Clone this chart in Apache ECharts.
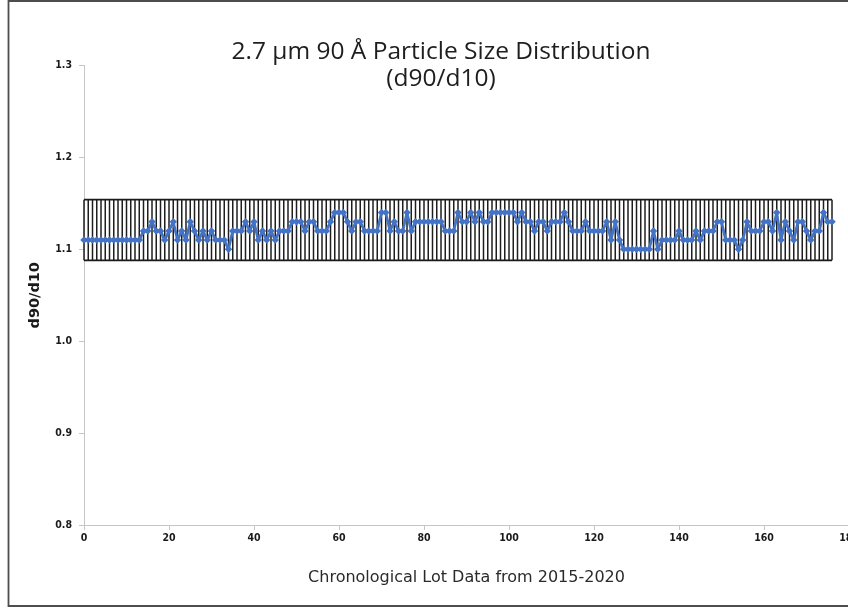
<!DOCTYPE html>
<html>
<head>
<meta charset="utf-8">
<script src="https://cdn.jsdelivr.net/npm/echarts@6/dist/echarts.min.js"></script>
<style>
  html, body { margin: 0; padding: 0; background: #ffffff; }
  #chart { width: 848px; height: 608px; }
</style>
</head>
<body>
<div id="chart"></div>
<script>
// ---- data ----
const titleLine1 = '2.7 µm 90 Å Particle Size Distribution';
const titleLine2 = '(d90/d10)';
const xAxisTitle = 'Chronological Lot Data from 2015-2020';
const yAxisTitle = 'd90/d10';

// d90/d10 per lot (lot index 0..176)
const ratioValues = [
  1.11,1.11,1.11,1.11,1.11,1.11,1.11,1.11,1.11,1.11,1.11,1.11,1.11,1.11,
  1.12,1.12,1.13,1.12,1.12,1.11,1.12,1.13,1.11,1.12,
  1.11,1.13,1.12,1.11,1.12,1.11,1.12,1.11,1.11,1.11,
  1.10,1.12,1.12,1.12,1.13,1.12,1.13,1.11,1.12,1.11,
  1.12,1.11,1.12,1.12,1.12,1.13,1.13,1.13,1.12,1.13,
  1.13,1.12,1.12,1.12,1.13,1.14,1.14,1.14,1.13,1.12,
  1.13,1.13,1.12,1.12,1.12,1.12,1.14,1.14,1.12,1.13,
  1.12,1.12,1.14,1.12,1.13,1.13,1.13,1.13,1.13,1.13,
  1.13,1.12,1.12,1.12,1.14,1.13,1.13,1.14,1.13,1.14,
  1.13,1.13,1.14,1.14,1.14,1.14,1.14,1.14,1.13,1.14,
  1.13,1.13,1.12,1.13,1.13,1.12,1.13,1.13,1.13,1.14,
  1.13,1.12,1.12,1.12,1.13,1.12,1.12,1.12,1.12,1.13,
  1.11,1.13,1.11,1.10,1.10,1.10,1.10,1.10,1.10,1.10,
  1.12,1.10,1.11,1.11,1.11,1.11,1.12,1.11,1.11,1.11,
  1.12,1.11,1.12,1.12,1.12,1.13,1.13,1.11,1.11,1.11,
  1.10,1.11,1.13,1.12,1.12,1.12,1.13,1.13,1.12,1.14,
  1.11,1.13,1.12,1.11,1.13,1.13,1.12,1.11,1.12,1.12,
  1.14,1.13,1.13
];
const lotNumbers = ratioValues.map((v, i) => i);

const upperLimit = 1.154;
const lowerLimit = 1.088;

const yMin = 0.8, yMax = 1.3, yStep = 0.1;
const xMin = 0, xMax = 180, xStep = 20;

// ---- build series data ----
const lineData = lotNumbers.map((x, i) => [x, ratioValues[i]]);
const upperData = lotNumbers.map(x => [x, upperLimit]);
const lowerData = lotNumbers.map(x => [x, lowerLimit]);
const hiLoData = lotNumbers.map(x => [x, lowerLimit, upperLimit]);

const chart = echarts.init(document.getElementById('chart'), null, { renderer: 'canvas' });

const labelFont = "'Liberation Sans Narrow', 'DejaVu Sans Condensed', 'Liberation Sans', sans-serif";

chart.setOption({
  animation: false,
  backgroundColor: '#ffffff',
  title: {
    text: titleLine1 + '\n' + titleLine2,
    left: 436,
    top: 34,
    textAlign: 'center',
    textStyle: {
      fontFamily: "'Open Sans', 'Noto Sans', sans-serif",
      fontSize: 24.5,
      fontWeight: 'normal',
      color: '#1e1e1e',
      lineHeight: 27
    }
  },
  graphic: [{
    type: 'rect',
    silent: true,
    shape: { x: 8.5, y: 1, width: 900, height: 605 },
    style: { fill: 'none', stroke: '#4d4d4d', lineWidth: 1.8 },
    z: 100
  }],
  grid: { left: 84, right: -1, top: 65.5, bottom: 83, containLabel: false, outerBoundsMode: 'none' },
  xAxis: {
    type: 'value',
    min: xMin, max: xMax, interval: xStep,
    name: xAxisTitle,
    nameLocation: 'middle',
    nameGap: 45,
    nameTextStyle: {
      fontFamily: "'DejaVu Sans', sans-serif",
      fontSize: 16,
      color: '#2a2a2a'
    },
    axisLine: { show: true, onZero: false, lineStyle: { color: '#c6c6c6', width: 1 } },
    axisTick: { show: true, length: 5, lineStyle: { color: '#c6c6c6' } },
    splitLine: { show: false },
    axisLabel: {
      margin: 8,
      fontFamily: labelFont,
      fontWeight: 'bold',
      fontSize: 10.5,
      color: '#1a1a1a',
      hideOverlap: false
    }
  },
  yAxis: {
    type: 'value',
    min: yMin, max: yMax, interval: yStep,
    name: yAxisTitle,
    nameLocation: 'middle',
    nameGap: 41,
    nameRotate: 90,
    nameTextStyle: {
      fontFamily: "'DejaVu Sans', sans-serif",
      fontSize: 14.5,
      fontWeight: 'bold',
      color: '#1a1a1a'
    },
    axisLine: { show: true, onZero: false, lineStyle: { color: '#c6c6c6', width: 1 } },
    axisTick: { show: true, length: 5, lineStyle: { color: '#c6c6c6' } },
    splitLine: { show: false },
    axisLabel: {
      margin: 12,
      fontFamily: labelFont,
      fontWeight: 'bold',
      fontSize: 10.5,
      color: '#1a1a1a',
      formatter: v => v.toFixed(1)
    }
  },
  series: [
    {
      type: 'custom',
      name: 'range',
      silent: true,
      z: 1,
      data: hiLoData,
      encode: { x: 0, y: [1, 2] },
      renderItem: function (params, api) {
        const p1 = api.coord([api.value(0), api.value(1)]);
        const p2 = api.coord([api.value(0), api.value(2)]);
        return {
          type: 'line',
          shape: { x1: p1[0], y1: p1[1], x2: p2[0], y2: p2[1] },
          style: { stroke: '#1e1e1e', lineWidth: 1.5 }
        };
      }
    },
    {
      type: 'line',
      name: 'upper',
      silent: true,
      z: 2,
      data: upperData,
      showSymbol: false,
      symbol: 'none',
      lineStyle: { color: '#1a1a1a', width: 1.6 }
    },
    {
      type: 'line',
      name: 'lower',
      silent: true,
      z: 2,
      data: lowerData,
      showSymbol: false,
      symbol: 'none',
      lineStyle: { color: '#1a1a1a', width: 1.6 }
    },
    {
      type: 'line',
      name: 'd90/d10',
      z: 5,
      data: lineData,
      symbol: 'diamond',
      symbolSize: 7.5,
      showAllSymbol: true,
      itemStyle: { color: '#4472C4' },
      lineStyle: { color: '#4472C4', width: 2.75 }
    }
  ]
});
</script>
</body>
</html>
